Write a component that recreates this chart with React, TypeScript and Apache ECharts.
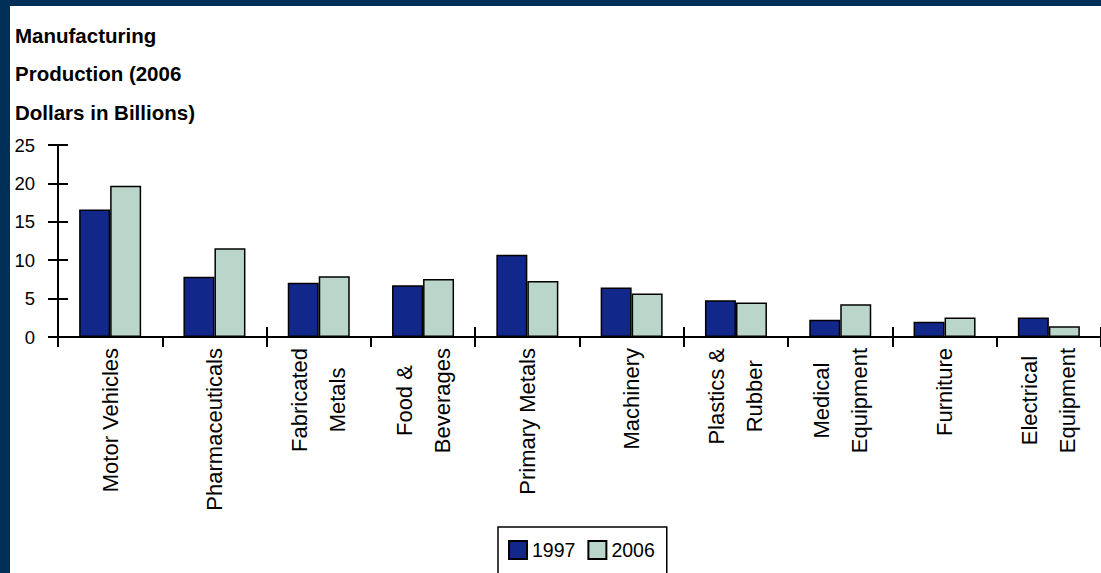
import React, { useEffect, useRef } from "react";
import * as echarts from "echarts";

const categories = [
  "Motor Vehicles",
  "Pharmaceuticals",
  "Fabricated\nMetals",
  "Food &\nBeverages",
  "Primary Metals",
  "Machinery",
  "Plastics &\nRubber",
  "Medical\nEquipment",
  "Furniture",
  "Electrical\nEquipment",
];
const values1997 = [16.6, 7.85, 7.05, 6.75, 10.7, 6.45, 4.8, 2.25, 2.0, 2.55];
const values2006 = [19.7, 11.55, 7.9, 7.55, 7.3, 5.65, 4.5, 4.25, 2.55, 1.4];
const yTicks = { min: 0, max: 25, interval: 5 };
const titleText = "Manufacturing\nProduction (2006\nDollars in Billions)";
const seriesNames = ["1997", "2006"];

const FONT = "'Liberation Sans Narrow', 'Arial Narrow', 'Liberation Sans', Arial, sans-serif";
const NAVY = "#002F57";

export default function App() {
  const ref = useRef<HTMLDivElement>(null);
  useEffect(() => {
    if (!ref.current) return;
    const chart = echarts.init(ref.current, null, { renderer: "svg" });
    const axisLineStyle = { color: "#000", width: 2 };
    chart.setOption({
      animation: false,
      backgroundColor: "#fff",
      title: {
        text: titleText,
        left: 5,
        top: 10,
        padding: 0,
        textStyle: {
          fontFamily: FONT,
          fontWeight: "bold",
          fontSize: 20.5,
          lineHeight: 38.5,
          color: "#000",
        },
      },
      legend: {
        data: seriesNames,
        left: 488,
        top: 521,
        orient: "horizontal",
        icon: "rect",
        itemWidth: 18,
        itemHeight: 18,
        itemGap: 12,
        borderColor: "#000",
        borderWidth: 1.5,
        padding: [13, 12, 16, 10],
        textStyle: { fontFamily: FONT, fontSize: 19.5, color: "#000", padding: [0, 0, 0, 0] },
      },
      grid: { left: 48, top: 139, width: 1060, height: 192, containLabel: false },
      xAxis: [
        {
          type: "category",
          data: categories,
          boundaryGap: true,
          axisLine: { lineStyle: axisLineStyle },
          axisTick: { show: true, length: 10, lineStyle: axisLineStyle, alignWithLabel: false },
          axisLabel: {
            interval: 0,
            rotate: 90,
            margin: 11,
            color: "#000",
            fontFamily: FONT,
            fontSize: 22,
            formatter: (v: string) => v.split("\n").map((s) => `{c|${s}}`).join("\n"),
            rich: {
              c: { align: "center", fontFamily: FONT, fontSize: 22, lineHeight: 38, color: "#000" },
            },
          },
        },
        {
          type: "category",
          data: categories,
          position: "bottom",
          boundaryGap: true,
          axisLine: { show: false },
          axisTick: { show: true, inside: true, length: 10, lineStyle: axisLineStyle },
          axisLabel: { show: false },
          splitLine: { show: false },
        },
      ],
      yAxis: [
        {
          type: "value",
          ...yTicks,
          axisLine: { show: true, lineStyle: axisLineStyle },
          axisTick: { show: true, length: 10, lineStyle: axisLineStyle },
          axisLabel: { margin: 23, color: "#000", fontFamily: FONT, fontSize: 18.5 },
          splitLine: { show: false },
        },
        {
          type: "value",
          ...yTicks,
          position: "left",
          axisLine: { show: false },
          axisTick: { show: true, inside: true, length: 10, lineStyle: axisLineStyle },
          axisLabel: { show: false },
          splitLine: { show: false },
        },
      ],
      series: [
        {
          name: seriesNames[0],
          type: "bar",
          data: values1997,
          barWidth: 31,
          barGap: "0%",
          itemStyle: { color: "#12278A", borderColor: "#000", borderWidth: 1.5 },
        },
        {
          name: seriesNames[1],
          type: "bar",
          data: values2006,
          barWidth: 31,
          barGap: "0%",
          itemStyle: { color: "#BAD6CB", borderColor: "#000", borderWidth: 1.5 },
        },
      ],
    });
    return () => chart.dispose();
  }, []);
  return (
    <div style={{ position: "fixed", left: 0, top: 0, width: 1101, height: 573, background: NAVY, overflow: "hidden" }}>
      <div ref={ref} style={{ position: "absolute", left: 10, top: 6, width: 1091, height: 567 }} />
    </div>
  );
}
